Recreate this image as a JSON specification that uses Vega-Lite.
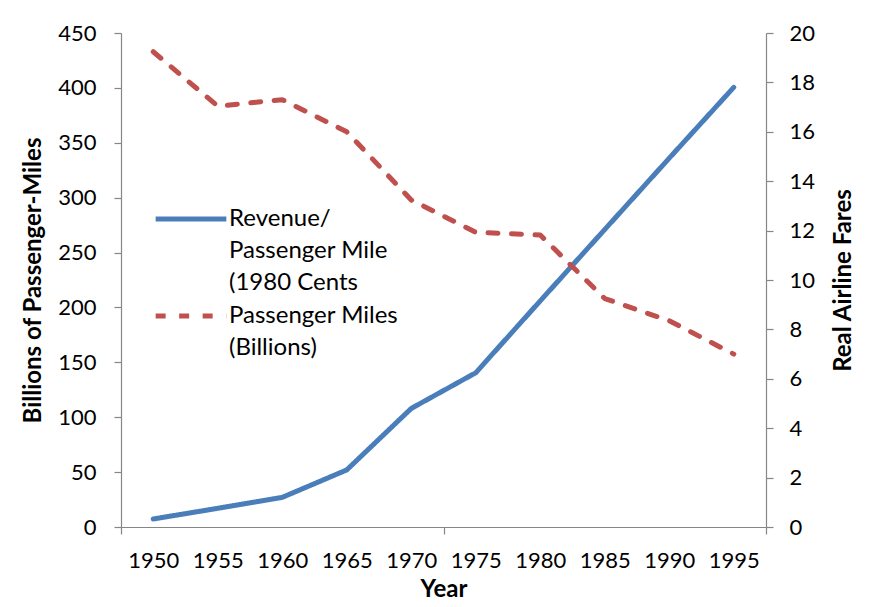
{
  "$schema": "https://vega.github.io/schema/vega-lite/v6.json",
  "width": 645,
  "height": 494,
  "autosize": "none",
  "padding": {"left": 121, "top": 33, "right": 124, "bottom": 80},
  "background": "white",
  "config": {
    "view": {"stroke": null},
    "font": "Lato",
    "style": {"guide-label": {"lineHeight": 32}},
    "legend": {"rowPadding": -17, "gridAlign": "none"},
    "axis": {
      "domainColor": "#868686",
      "domainWidth": 1.2,
      "tickColor": "#868686",
      "tickWidth": 1.2,
      "tickSize": 7,
      "grid": false,
      "labelFont": "Lato",
      "labelFontSize": 22,
      "labelColor": "#000000",
      "titleFont": "Lato",
      "titleFontSize": 24,
      "titleFontWeight": "bold",
      "titleColor": "#000000"
    }
  },
  "data": {
    "values": [
      {"year": 1950, "series": "Revenue/|Passenger Mile|(1980 Cents", "value": 7.3},
      {"year": 1955, "series": "Revenue/|Passenger Mile|(1980 Cents", "value": 17},
      {"year": 1960, "series": "Revenue/|Passenger Mile|(1980 Cents", "value": 27},
      {"year": 1965, "series": "Revenue/|Passenger Mile|(1980 Cents", "value": 52},
      {"year": 1970, "series": "Revenue/|Passenger Mile|(1980 Cents", "value": 108},
      {"year": 1975, "series": "Revenue/|Passenger Mile|(1980 Cents", "value": 140.5},
      {"year": 1980, "series": "Revenue/|Passenger Mile|(1980 Cents", "value": 206},
      {"year": 1985, "series": "Revenue/|Passenger Mile|(1980 Cents", "value": 271},
      {"year": 1990, "series": "Revenue/|Passenger Mile|(1980 Cents", "value": 336},
      {"year": 1995, "series": "Revenue/|Passenger Mile|(1980 Cents", "value": 400.5},
      {"year": 1950, "series": "Passenger Miles|(Billions)", "value": 19.24},
      {"year": 1955, "series": "Passenger Miles|(Billions)", "value": 17.04},
      {"year": 1960, "series": "Passenger Miles|(Billions)", "value": 17.3},
      {"year": 1965, "series": "Passenger Miles|(Billions)", "value": 16.0},
      {"year": 1970, "series": "Passenger Miles|(Billions)", "value": 13.24},
      {"year": 1975, "series": "Passenger Miles|(Billions)", "value": 11.93},
      {"year": 1980, "series": "Passenger Miles|(Billions)", "value": 11.82},
      {"year": 1985, "series": "Passenger Miles|(Billions)", "value": 9.25},
      {"year": 1990, "series": "Passenger Miles|(Billions)", "value": 8.35},
      {"year": 1995, "series": "Passenger Miles|(Billions)", "value": 7.0}
    ]
  },
  "encoding": {
    "x": {
      "field": "year",
      "type": "quantitative",
      "scale": {"domain": [1947.5, 1997.5], "nice": false, "zero": false},
      "axis": {
        "title": "Year",
        "values": [1947.5, 1950, 1955, 1960, 1965, 1970, 1972.5, 1975, 1980, 1985, 1990, 1995, 1997.5],
        "format": "d",
        "labelExpr": "datum.value % 5 == 0 ? datum.label : ''",
        "tickOpacity": {"condition": {"test": "datum.value % 5 != 0", "value": 1}, "value": 0},
        "labelFlush": false,
        "labelOverlap": false,
        "labelBound": false,
        "labelPadding": 16,
        "titlePadding": 6
      }
    },
    "color": {
      "field": "series",
      "type": "nominal",
      "scale": {
        "domain": ["Revenue/|Passenger Mile|(1980 Cents", "Passenger Miles|(Billions)"],
        "range": ["#4A7EBB", "#C0504D"]
      },
      "legend": {
        "title": null,
        "orient": "none",
        "legendX": 32,
        "legendY": 148,
        "symbolType": "stroke",
        "symbolSize": 5000,
        "symbolStrokeWidth": 5,
        "labelExpr": "split(datum.label, '|')",
        "labelFont": "Lato",
        "labelFontSize": 24,
        "labelColor": "#000000",
        "labelLimit": 400,
        "labelOffset": 0,
        "rowPadding": -17,
        "gridAlign": "none",
        "padding": 0
      }
    },
    "strokeDash": {
      "field": "series",
      "type": "nominal",
      "scale": {
        "domain": ["Revenue/|Passenger Mile|(1980 Cents", "Passenger Miles|(Billions)"],
        "range": [[1, 0], [10, 13.5]]
      },
      "legend": null
    }
  },
  "layer": [
    {
      "transform": [{"filter": "datum.series == 'Revenue/|Passenger Mile|(1980 Cents'"}],
      "mark": {"type": "line", "strokeWidth": 5, "strokeCap": "round", "strokeJoin": "round"},
      "encoding": {
        "y": {
          "field": "value",
          "type": "quantitative",
          "scale": {"domain": [0, 450], "nice": false},
          "axis": {
            "title": "Billions of Passenger-Miles",
            "orient": "left",
            "values": [0, 50, 100, 150, 200, 250, 300, 350, 400, 450],
            "labelPadding": 18,
            "titlePadding": 12
          }
        }
      }
    },
    {
      "transform": [{"filter": "datum.series == 'Passenger Miles|(Billions)'"}],
      "mark": {"type": "line", "strokeWidth": 5, "strokeCap": "round", "strokeJoin": "round"},
      "encoding": {
        "y": {
          "field": "value",
          "type": "quantitative",
          "scale": {"domain": [0, 20], "nice": false},
          "axis": {
            "title": "Real Airline Fares",
            "orient": "right",
            "values": [0, 2, 4, 6, 8, 10, 12, 14, 16, 18, 20],
            "labelPadding": 16,
            "titleAngle": 270,
            "titlePadding": 41
          }
        }
      }
    }
  ],
  "resolve": {"scale": {"y": "independent"}}
}
